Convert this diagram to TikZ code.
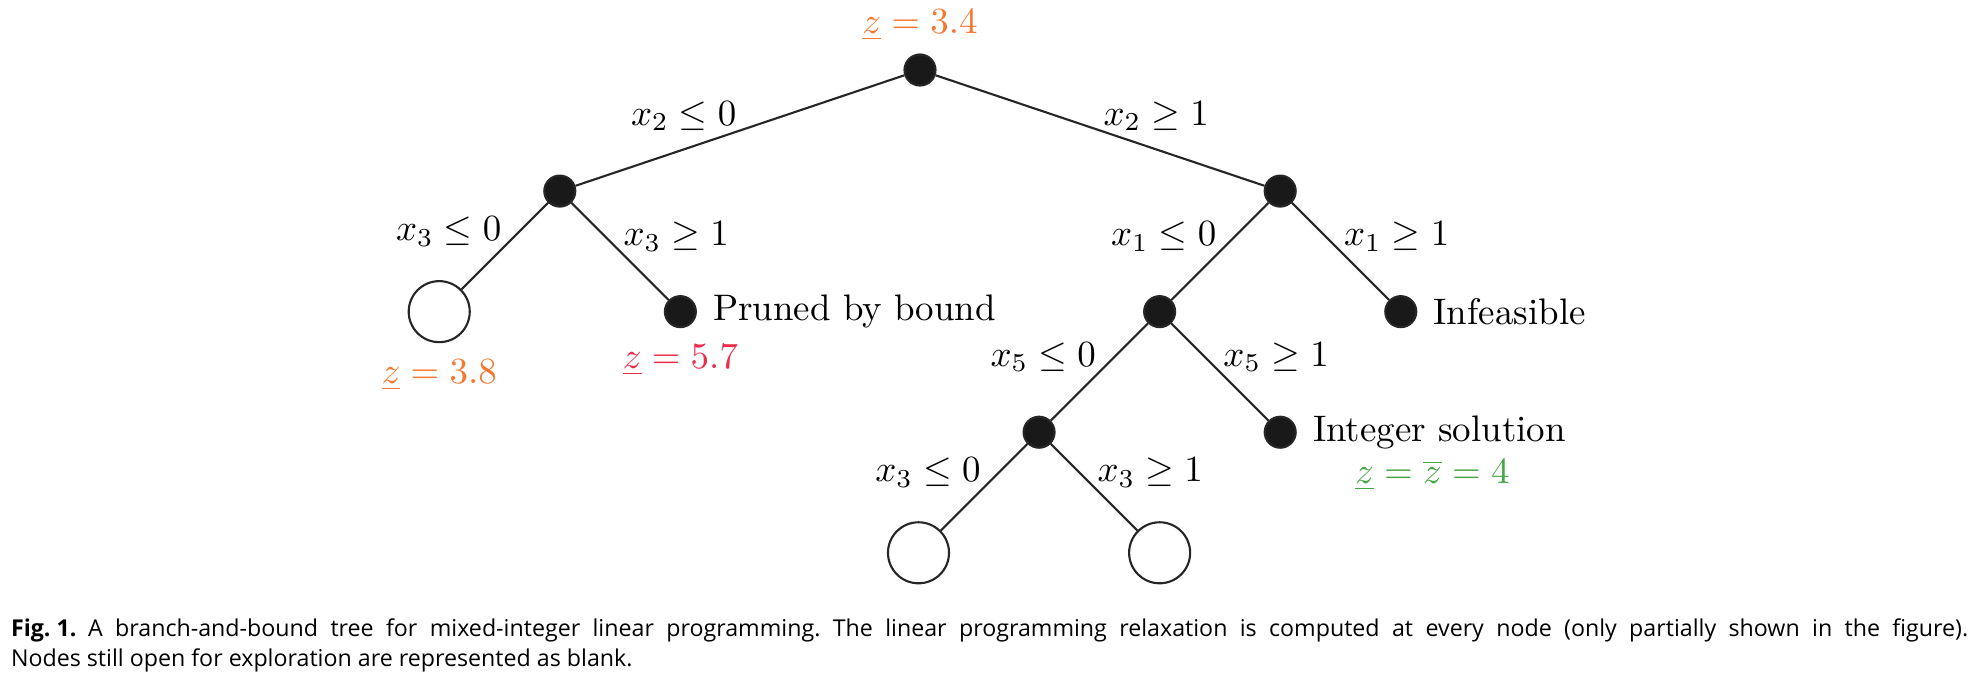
\RequirePackage{fix-cm}
\documentclass[tikz,border=0pt]{standalone}
\usepackage{amsmath,amssymb}
\usepackage{fontspec}
\newfontfamily\capfont{Open Sans}
\usetikzlibrary{positioning}

\definecolor{lbcol}{RGB}{245,120,50}
\definecolor{prunecol}{RGB}{235,45,75}
\definecolor{intcol}{RGB}{70,165,70}

\begin{document}
\begin{tikzpicture}[x=0.01cm,y=-0.01cm,on grid,node distance=1.205cm and 1.205cm,
      line width=0.6pt,draw=black!85,font=\fontsize{10.5}{12.6}\selectfont,label distance=1pt,
      bb node/.style={circle,draw=black!85,fill=black!90,minimum size=0.31cm,inner sep=0pt},
      open node/.style={circle,draw=black!85,fill=white,minimum size=0.61cm,inner sep=0pt},
      branch/.style={inner sep=0.7pt,yshift=-1pt}]
  \useasboundingbox (0,0) rectangle (1974,690);
  % tree nodes
  \node[bb node,label={[text=lbcol,label distance=0pt]above:$\underline{z}=3.4$}] (root) at (920,70) {};
  \node[bb node] (n0) [below left=1.21cm and 3.6cm of root] {};
  \node[bb node] (n1) [below right=1.21cm and 3.6cm of root] {};
  \node[open node,label={[text=lbcol]below:$\underline{z}=3.8$}] (n00) [below left=of n0] {};
  \node[bb node,label={right:Pruned by bound},
        label={[text=prunecol]below:$\underline{z}=5.7$}] (n01) [below right=of n0] {};
  \node[bb node] (n10) [below left=of n1] {};
  \node[bb node,label={right:Infeasible}] (n11) [below right=of n1] {};
  \node[bb node] (n100) [below left=of n10] {};
  \node[bb node,label={[name=intsol]right:Integer solution}] (n101) [below right=of n10] {};
  \node[open node] (n1000) [below left=of n100] {};
  \node[open node] (n1001) [below right=of n100] {};
  \node[text=intcol] (zint) [below=0.43cm of intsol,xshift=-0.07cm] {$\underline{z}=\overline{z}=4$};
  % branching
  \path
    (root) edge node[branch,above left] {$x_2 \leq 0$} (n0)
    (root) edge node[branch,above right] {$x_2 \geq 1$} (n1)
    (n0) edge node[branch,above left] {$x_3 \leq 0$} (n00)
    (n0) edge node[branch,above right] {$x_3 \geq 1$} (n01)
    (n1) edge node[branch,above left] {$x_1 \leq 0$} (n10)
    (n1) edge node[branch,above right] {$x_1 \geq 1$} (n11)
    (n10) edge node[branch,above left] {$x_5 \leq 0$} (n100)
    (n10) edge node[branch,above right] {$x_5 \geq 1$} (n101)
    (n100) edge node[branch,above left] {$x_3 \leq 0$} (n1000)
    (n100) edge node[branch,above right] {$x_3 \geq 1$} (n1001)
    ;
  % caption
  \node[anchor=north west,text width=19.56cm,align=justify,inner sep=0pt,
        font=\capfont\fontsize{6.6}{8.3}\selectfont\frenchspacing] (caption) at (10,618)
    {\mbox{\textbf{Fig. 1.}}\enspace A branch-and-bound tree for mixed-integer linear programming. The linear programming relaxation is computed at every node (only partially shown in the figure).\linebreak
     Nodes still open for exploration are represented as blank.};
\end{tikzpicture}
\end{document}
